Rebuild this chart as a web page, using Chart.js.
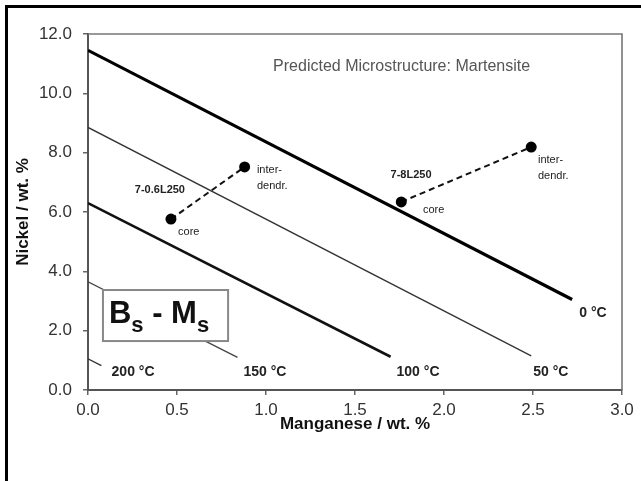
<!DOCTYPE html>
<html>
<head>
<meta charset="utf-8">
<script src="https://cdn.jsdelivr.net/npm/chart.js@4.4.1/dist/chart.umd.min.js"></script>
<style>
  html, body { margin: 0; padding: 0; background: #fff; }
  #wrap { position: relative; width: 641px; height: 481px; }
</style>
</head>
<body>
<div id="wrap"><canvas id="c" width="641" height="481"></canvas></div>
<script>
// ---- data ----
const xTicks = [0.0, 0.5, 1.0, 1.5, 2.0, 2.5, 3.0];
const yTicks = [0.0, 2.0, 4.0, 6.0, 8.0, 10.0, 12.0];

// Bs - Ms isotherms: start / end points (Mn wt.%, Ni wt.%)
const isothermNames = ['0 °C', '50 °C', '100 °C', '150 °C', '200 °C'];
const isothermMn = [[0, 2.72], [0, 2.49], [0, 1.70], [0, 0.84], [0, 0.075]];
const isothermNi = [[11.45, 3.05], [8.85, 1.15], [6.30, 1.12], [3.65, 1.10], [1.05, 0.82]];

// measured alloys: [core, inter-dendritic]
const sampleNames = ['7-0.6L250', '7-8L250'];
const sampleMn = [[0.466, 0.88], [1.76, 2.49]];
const sampleNi = [[5.76, 7.52], [6.34, 8.19]];

const titleText = 'Predicted Microstructure: Martensite';
const xTitle = 'Manganese / wt. %';
const yTitle = 'Nickel / wt. %';

// ---- styling ----
const isoWidths = [3.2, 1.3, 2.6, 1.3, 1.3];
const isoColors = ['#000', '#333', '#111', '#444', '#333'];

const datasets = [];
isothermNames.forEach((n, i) => {
  datasets.push({
    label: n,
    data: isothermMn[i].map((x, j) => ({ x: x, y: isothermNi[i][j] })),
    showLine: true,
    borderColor: isoColors[i],
    borderWidth: isoWidths[i],
    pointRadius: 0,
    fill: false
  });
});
sampleNames.forEach((n, i) => {
  datasets.push({
    label: n,
    data: sampleMn[i].map((x, j) => ({ x: x, y: sampleNi[i][j] })),
    showLine: true,
    borderColor: '#111',
    borderWidth: 2,
    borderDash: [6, 4],
    pointRadius: 4.5,
    pointBackgroundColor: '#000',
    pointBorderColor: '#000',
    fill: false
  });
});

// annotation anchors (data coordinates)
const isoLabelPos = [[2.837, 2.60], [2.60, 0.61], [1.854, 0.61], [0.994, 0.61], [0.253, 0.61]];

const annot = {
  id: 'annot',
  afterDatasetsDraw(chart) {
    const ctx = chart.ctx, xs = chart.scales.x, ys = chart.scales.y, ca = chart.chartArea;
    const px = v => xs.getPixelForValue(v), py = v => ys.getPixelForValue(v);
    ctx.save();
    // top / right frame of the plot
    ctx.strokeStyle = '#777';
    ctx.lineWidth = 1.6;
    ctx.beginPath();
    ctx.moveTo(ca.left, ca.top); ctx.lineTo(ca.right, ca.top); ctx.lineTo(ca.right, ca.bottom);
    ctx.stroke();

    // Bs - Ms box
    const bx0 = px(0.084), by0 = py(3.37), bx1 = px(0.787), by1 = py(1.65);
    ctx.fillStyle = '#fff';
    ctx.fillRect(bx0, by0, bx1 - bx0, by1 - by0);
    ctx.strokeStyle = '#888';
    ctx.lineWidth = 2;
    ctx.strokeRect(bx0, by0, bx1 - bx0, by1 - by0);
    ctx.fillStyle = '#111';
    ctx.textBaseline = 'alphabetic';
    ctx.textAlign = 'left';
    let tx = bx0 + 6;
    const base = by0 + 33;
    const big = 'bold 31px "Liberation Sans", Arial, sans-serif';
    const sm = 'bold 22px "Liberation Sans", Arial, sans-serif';
    const parts = [['B', big, 0], ['s', sm, 9], [' - ', big, 0], ['M', big, 0], ['s', sm, 9]];
    parts.forEach(p => {
      ctx.font = p[1];
      ctx.fillText(p[0], tx, base + p[2]);
      tx += ctx.measureText(p[0]).width;
    });

    // isotherm labels
    ctx.font = 'bold 14px "Liberation Sans", Arial, sans-serif';
    ctx.fillStyle = '#222';
    ctx.textAlign = 'center';
    ctx.textBaseline = 'middle';
    isothermNames.forEach((n, i) => {
      ctx.fillText(n, px(isoLabelPos[i][0]), py(isoLabelPos[i][1]));
    });

    // sample labels
    ctx.font = 'bold 11px "Liberation Sans", Arial, sans-serif';
    ctx.fillStyle = '#222';
    ctx.textAlign = 'center';
    ctx.fillText(sampleNames[0], px(0.404), py(6.74));
    ctx.fillText(sampleNames[1], px(1.815), py(7.25));
    ctx.textAlign = 'left';
    ctx.font = '11px "Liberation Sans", Arial, sans-serif';
    ctx.fillText('inter-', px(0.949), py(7.42));
    ctx.fillText('dendr.', px(0.949), py(6.88));
    ctx.fillText('inter-', px(2.528), py(7.75));
    ctx.fillText('dendr.', px(2.528), py(7.21));
    ctx.fillText('core', px(0.506), py(5.33));
    ctx.fillText('core', px(1.882), py(6.07));

    // title
    ctx.font = '16px "Liberation Sans", Arial, sans-serif';
    ctx.fillStyle = '#555';
    ctx.textAlign = 'left';
    ctx.fillText(titleText, px(1.04), py(10.89));

    // outer frame
    ctx.strokeStyle = '#000';
    ctx.lineWidth = 3;
    ctx.beginPath();
    ctx.moveTo(6.5, 481); ctx.lineTo(6.5, 6.5); ctx.lineTo(641, 6.5);
    ctx.stroke();
    ctx.restore();
  }
};

const tickFont = { family: '"Liberation Sans", Arial, sans-serif', size: 17 };
const titleFont = { family: '"Liberation Sans", Arial, sans-serif', size: 17, weight: 'bold' };

new Chart(document.getElementById('c'), {
  type: 'scatter',
  data: { datasets: datasets },
  options: {
    responsive: false,
    animation: false,
    layout: { padding: { left: 0, right: 19, top: 34, bottom: 0 } },
    plugins: { legend: { display: false }, tooltip: { enabled: false } },
    scales: {
      x: {
        type: 'linear',
        min: xTicks[0], max: xTicks[xTicks.length - 1],
        afterBuildTicks: s => { s.ticks = xTicks.map(v => ({ value: v })); },
        afterFit: s => { s.height = 91; },
        ticks: { font: tickFont, color: '#333', padding: 5, callback: v => Number(v).toFixed(1), maxRotation: 0 },
        grid: { drawOnChartArea: false, drawTicks: true, tickLength: 5, color: '#666', lineWidth: 1.5 },
        border: { color: '#555', width: 2 },
        title: { display: true, text: xTitle, font: titleFont, color: '#111', padding: { top: 46, bottom: 46 } }
      },
      y: {
        type: 'linear',
        min: yTicks[0], max: yTicks[yTicks.length - 1],
        afterBuildTicks: s => { s.ticks = yTicks.map(v => ({ value: v })); },
        afterFit: s => { s.width = 88; },
        ticks: { font: tickFont, color: '#333', padding: 11, callback: v => Number(v).toFixed(1) },
        grid: { drawOnChartArea: false, drawTicks: true, tickLength: 5, color: '#666', lineWidth: 1.5 },
        border: { color: '#555', width: 2 },
        title: { display: true, text: yTitle, font: titleFont, color: '#111', padding: { top: 13, bottom: 13 } }
      }
    }
  },
  plugins: [annot]
});
</script>
</body>
</html>
